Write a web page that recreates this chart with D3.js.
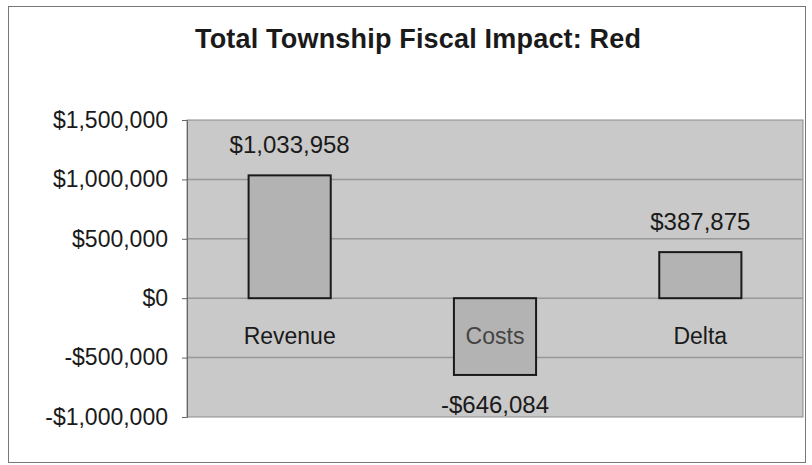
<!DOCTYPE html>
<html>
<head>
<meta charset="utf-8">
<script src="https://cdn.jsdelivr.net/npm/d3@7"></script>
<style>
body { margin: 0; background: #fff; }
svg { font-family: "Liberation Sans", Arial, sans-serif; }
</style>
</head>
<body>
<div class="content"></div>
<script>
const w = 812;
const h = 465;

const categories = ['Revenue', 'Costs', 'Delta'];
const values = [1033958, -646084, 387875];
const ticks = [-1000000, -500000, 0, 500000, 1000000, 1500000];

const fmt = v => (v < 0 ? '-$' : '$') + d3.format(',')(Math.abs(v));

const svg = d3.select('.content').append('svg')
	.attr('width', w)
	.attr('height', h);

// outer frame
svg.append('rect')
	.attr('x', 8.5).attr('y', 6.5)
	.attr('width', 797).attr('height', 456)
	.attr('fill', '#fff')
	.attr('stroke', '#777')
	.attr('stroke-width', 1);

svg.append('text')
	.attr('x', 418).attr('y', 48)
	.attr('text-anchor', 'middle')
	.attr('font-size', 27)
	.attr('font-weight', 'bold')
	.attr('fill', '#1a1a1a')
	.attr('textLength', 446)
	.text('Total Township Fiscal Impact:  Red');

const x = d3.scaleBand()
	.domain(categories)
	.range([187, 803])
	.paddingInner(0.6)
	.paddingOuter(0.3);

const y = d3.scaleLinear()
	.domain([-1000000, 1500000])
	.range([417, 120]);

// plot area
svg.append('rect')
	.attr('x', 187).attr('y', y(1500000))
	.attr('width', 803 - 187).attr('height', y(-1000000) - y(1500000))
	.attr('fill', '#c9c9c9')
	.attr('stroke', '#8a8a8a');

// grid lines
svg.selectAll('.grid')
	.data(ticks.slice(1, -1))
	.enter()
	.append('line')
	.attr('x1', 187).attr('x2', 803)
	.attr('y1', d => y(d)).attr('y2', d => y(d))
	.attr('stroke', '#989898')
	.attr('stroke-width', 1.5);

const yAxis = svg.append('g')
	.attr('transform', 'translate(187,0)')
	.call(d3.axisLeft(y).tickValues(ticks).tickFormat(fmt).tickSize(5).tickPadding(14));
yAxis.select('.domain').attr('stroke', '#666');
yAxis.selectAll('.tick line').attr('stroke', '#666');
yAxis.selectAll('text')
	.attr('font-size', 23)
	.attr('fill', '#1a1a1a')
	.attr('font-family', '"Liberation Sans", Arial, sans-serif');

// bars
svg.selectAll('.bar')
	.data(values)
	.enter()
	.append('rect')
	.attr('x', (d, i) => x(categories[i]))
	.attr('width', x.bandwidth())
	.attr('y', d => y(Math.max(0, d)))
	.attr('height', d => Math.abs(y(d) - y(0)))
	.attr('fill', '#b3b3b3')
	.attr('stroke', '#1a1a1a')
	.attr('stroke-width', 2);

// value labels
svg.selectAll('.val')
	.data(values)
	.enter()
	.append('text')
	.attr('x', (d, i) => x(categories[i]) + x.bandwidth() / 2)
	.attr('y', d => d >= 0 ? y(d) - 22 : y(d) + 38)
	.attr('text-anchor', 'middle')
	.attr('font-size', 24)
	.attr('fill', '#1a1a1a')
	.text(fmt);

// category labels
svg.selectAll('.cat')
	.data(categories)
	.enter()
	.append('text')
	.attr('x', d => x(d) + x.bandwidth() / 2)
	.attr('y', y(0) + 46)
	.attr('text-anchor', 'middle')
	.attr('font-size', 23)
	.attr('fill', (d, i) => values[i] < 0 ? '#444' : '#1a1a1a')
	.text(d => d);
</script>
</body>
</html>
